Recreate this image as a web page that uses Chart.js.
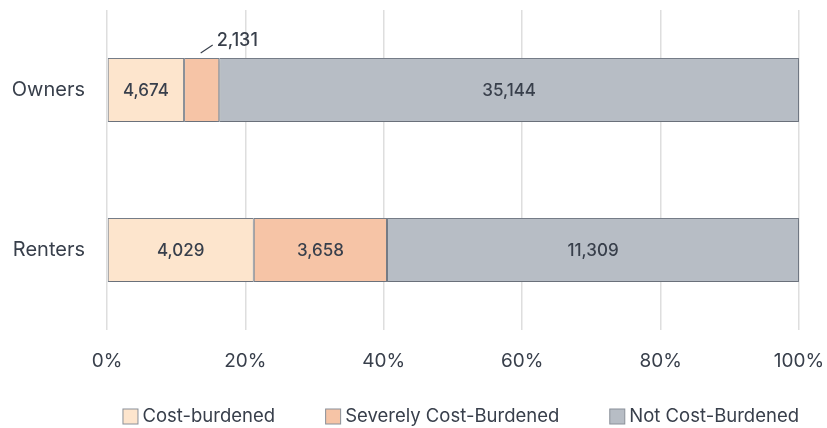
<!DOCTYPE html>
<html>
<head>
<meta charset="utf-8">
<script src="https://cdn.jsdelivr.net/npm/chart.js@4.4.1/dist/chart.umd.min.js"></script>
<style>
  body { margin: 0; background: #fff; }
</style>
</head>
<body>
<canvas id="graphique" width="827" height="428"></canvas>
<script>
const categories = ['Owners', 'Renters'];
const seriesNames = ['Cost-burdened', 'Severely Cost-Burdened', 'Not Cost-Burdened'];
const costBurdened = [4674, 4029];
const severelyBurdened = [2131, 3658];
const notBurdened = [35144, 11309];
const xTicks = [0, 20, 40, 60, 80, 100];

const fills = ['#fde5cd', '#f6c4a6', '#b7bdc5'];
const textColor = '#383f4b';
const fontFamily = 'Inter, "Noto Sans", sans-serif';

const series = [costBurdened, severelyBurdened, notBurdened];
const totals = categories.map((c, j) => series.reduce((s, arr) => s + arr[j], 0));

// share of each row, so that every bar goes to 100%
const datasets = series.map((arr, i) => ({
  label: seriesNames[i],
  counts: arr,
  data: arr.map((v, j) => v / totals[j] * 100),
  backgroundColor: fills[i],
  borderColor: '#767d88',
  borderWidth: 1,
  borderSkipped: false,
  categoryPercentage: 0.5,
  barPercentage: 0.8
}));

const valueLabels = {
  id: 'valueLabels',
  beforeDatasetsDraw(chart) {
    const ctx = chart.ctx;
    ctx.save();
    ctx.shadowColor = 'rgba(0,0,0,0.12)';
    ctx.shadowBlur = 3;
    ctx.shadowOffsetY = 2;
  },
  afterDatasetsDraw(chart) {
    const ctx = chart.ctx;
    ctx.restore();
    ctx.save();
    ctx.fillStyle = textColor;
    ctx.strokeStyle = textColor;
    ctx.textBaseline = 'middle';
    chart.data.datasets.forEach((ds, i) => {
      const meta = chart.getDatasetMeta(i);
      meta.data.forEach((bar, j) => {
        const p = bar.getProps(['x', 'y', 'base', 'height'], true);
        const w = p.x - p.base;
        const cx = (p.x + p.base) / 2;
        const txt = ds.counts[j].toLocaleString('en-US');
        if (w > 50) {
          ctx.font = '500 17px ' + fontFamily;
          ctx.textAlign = 'center';
          ctx.fillText(txt, cx, p.y + 1);
        } else {
          // small segment: label above with a short leader line
          const top = p.y - p.height / 2;
          ctx.lineWidth = 1.2;
          ctx.beginPath();
          ctx.moveTo(cx - 1, top - 5);
          ctx.lineTo(cx + 11, top - 13);
          ctx.stroke();
          ctx.font = '500 18px ' + fontFamily;
          ctx.textAlign = 'left';
          ctx.fillText(txt, cx + 15, top - 17);
        }
      });
    });
    ctx.restore();
  }
};

const bottomLegend = {
  id: 'bottomLegend',
  afterDraw(chart) {
    const ctx = chart.ctx;
    const box = 15, gapText = 5, gapItem = 50;
    ctx.save();
    ctx.font = '18.5px ' + fontFamily;
    ctx.textBaseline = 'middle';
    ctx.textAlign = 'left';
    const items = chart.data.datasets.map(ds => ({
      label: ds.label,
      color: ds.backgroundColor,
      w: box + gapText + ctx.measureText(ds.label).width
    }));
    const total = items.reduce((s, it) => s + it.w, 0) + gapItem * (items.length - 1);
    let x = chart.chartArea.right - total;
    const y = 416;
    items.forEach(it => {
      ctx.fillStyle = it.color;
      ctx.fillRect(x + 0.5, y - box / 2 + 0.5, box, box);
      ctx.strokeStyle = '#8a9099';
      ctx.lineWidth = 1;
      ctx.strokeRect(x + 0.5, y - box / 2 + 0.5, box, box);
      ctx.fillStyle = textColor;
      ctx.fillText(it.label, x + box + gapText, y);
      x += it.w + gapItem;
    });
    ctx.restore();
  }
};

const ctx = document.getElementById('graphique').getContext('2d');
new Chart(ctx, {
  type: 'bar',
  data: {
    labels: categories,
    datasets: datasets
  },
  options: {
    indexAxis: 'y',
    responsive: false,
    animation: false,
    layout: { padding: { top: 10, right: 28, left: 0, bottom: 0 } },
    plugins: {
      legend: { display: false },
      tooltip: { enabled: false }
    },
    scales: {
      x: {
        stacked: true,
        min: 0,
        max: 100,
        afterFit(scale) {
          scale.height = 98;
          scale.paddingLeft = 0;
          scale.paddingRight = 0;
        },
        afterBuildTicks(scale) { scale.ticks = xTicks.map(v => ({ value: v })); },
        border: { display: false },
        grid: { color: '#dedede', lineWidth: 1.5, drawTicks: false },
        ticks: {
          padding: 20,
          color: textColor,
          font: { family: fontFamily, size: 19 },
          callback: v => v + '%'
        }
      },
      y: {
        stacked: true,
        afterFit(scale) {
          scale.width = 107;
          scale.paddingTop = 0;
          scale.paddingBottom = 0;
        },
        border: { display: false },
        grid: { display: false, drawTicks: false },
        ticks: {
          padding: 22,
          color: textColor,
          font: { family: fontFamily, size: 20 }
        }
      }
    }
  },
  plugins: [valueLabels, bottomLegend]
});
</script>
</body>
</html>
